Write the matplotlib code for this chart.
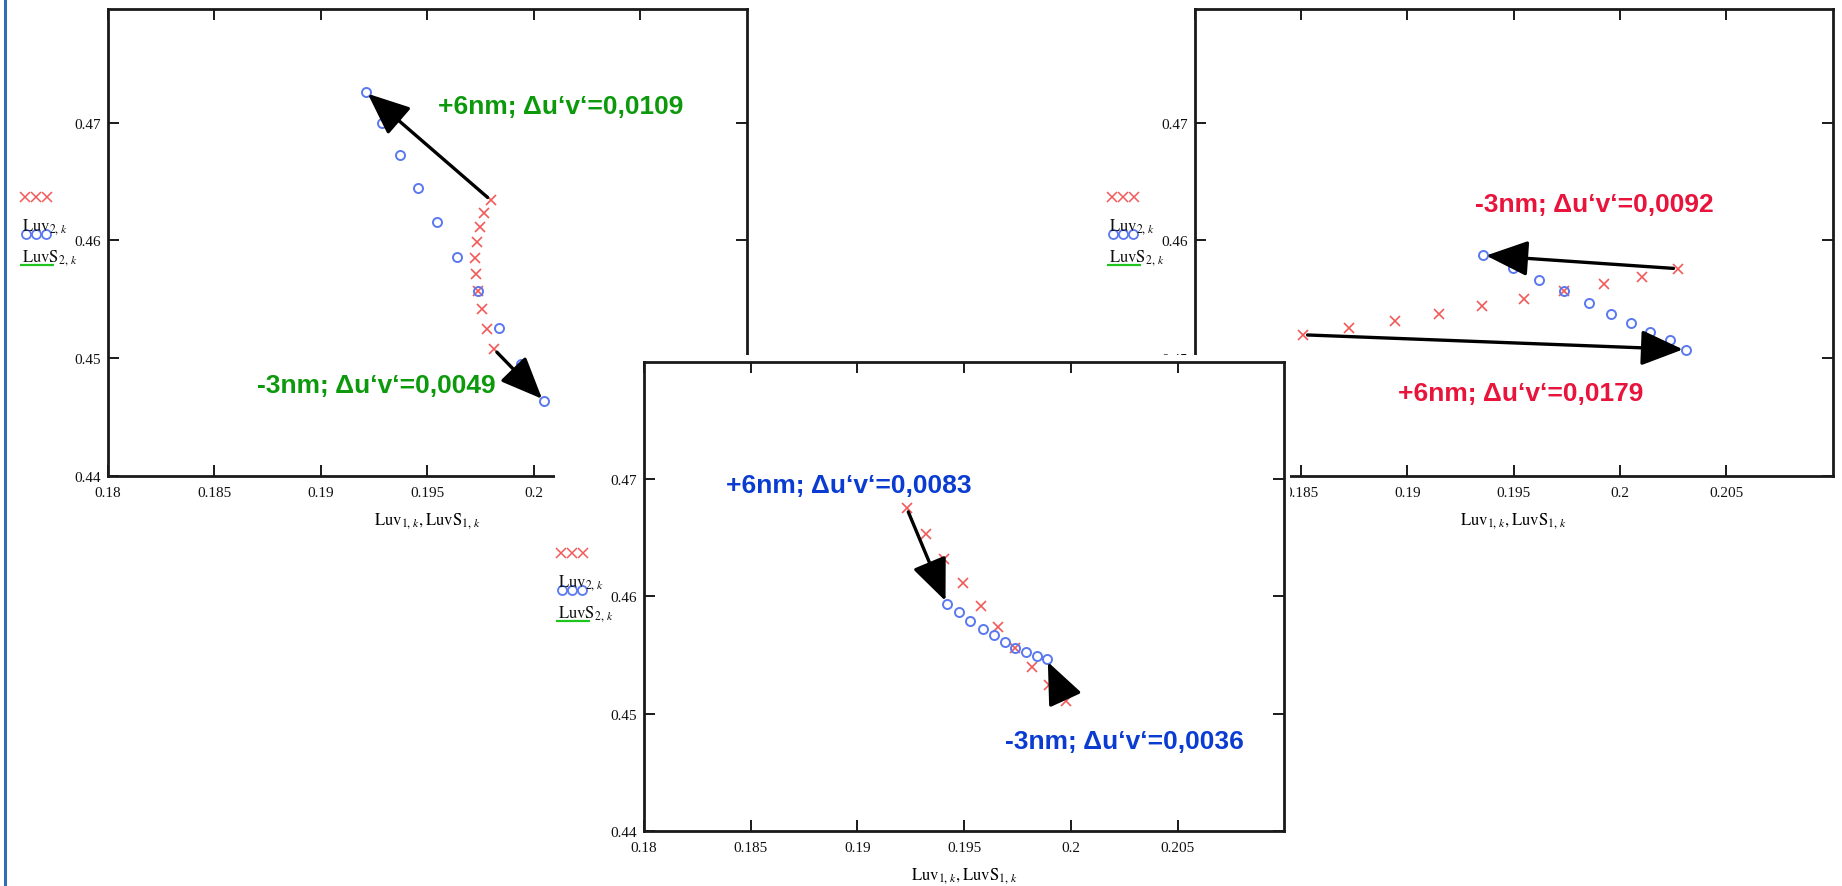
import numpy as np
import matplotlib
matplotlib.use("Agg")
import matplotlib.pyplot as plt
import matplotlib.transforms as mtransforms
from matplotlib.patches import Rectangle
from matplotlib.lines import Line2D

plt.rcParams['mathtext.fontset'] = 'stix'
plt.rcParams['font.family'] = ['Liberation Serif', 'DejaVu Serif']

W, H, DPI = 1842, 887, 100

# u'v' chromaticity points
# panel 1 (green notes)
p1_red_u = [0.19798, 0.19768, 0.19748, 0.19732, 0.19723, 0.19727, 0.19740, 0.19756, 0.19782, 0.19813]
p1_red_v = [0.46342, 0.46236, 0.46117, 0.45986, 0.45854, 0.45712, 0.45570, 0.45415, 0.45251, 0.45076]
p1_blue_u = [0.19211, 0.19289, 0.19372, 0.19458, 0.19544, 0.19638, 0.19740, 0.19838, 0.19939, 0.20048]
p1_blue_v = [0.47262, 0.46999, 0.46722, 0.46444, 0.46156, 0.45862, 0.45570, 0.45260, 0.44949, 0.44637]

# panel 2 (blue notes)
p2_red_u = [0.19231, 0.19320, 0.19406, 0.19493, 0.19578, 0.19660, 0.19738, 0.19819, 0.19898, 0.19976]
p2_red_v = [0.46753, 0.46532, 0.46319, 0.46115, 0.45922, 0.45741, 0.45563, 0.45401, 0.45242, 0.45109]
p2_blue_u = [0.19418, 0.19475, 0.19528, 0.19587, 0.19640, 0.19691, 0.19738, 0.19788, 0.19840, 0.19887]
p2_blue_v = [0.45939, 0.45865, 0.45792, 0.45724, 0.45667, 0.45610, 0.45563, 0.45525, 0.45491, 0.45463]

# panel 3 (red notes)
p3_red_u = [0.18511, 0.18727, 0.18942, 0.19149, 0.19350, 0.19550, 0.19737, 0.19925, 0.20102, 0.20271]
p3_red_v = [0.45198, 0.45260, 0.45317, 0.45374, 0.45439, 0.45502, 0.45567, 0.45626, 0.45689, 0.45760]
p3_blue_u = [0.19357, 0.19495, 0.19618, 0.19737, 0.19853, 0.19956, 0.20050, 0.20141, 0.20235, 0.20309]
p3_blue_v = [0.45873, 0.45766, 0.45660, 0.45567, 0.45471, 0.45377, 0.45298, 0.45221, 0.45150, 0.45073]

xticks = [0.18, 0.185, 0.19, 0.195, 0.2, 0.205]
xticklabels = ['0.18', '0.185', '0.19', '0.195', '0.2', '0.205']
yticks = [0.44, 0.45, 0.46, 0.47]
yticklabels = ['0.44', '0.45', '0.46', '0.47']

p1_notes = ['+6nm; \u0394u\u2018v\u2018=0,0109', '-3nm; \u0394u\u2018v\u2018=0,0049']
p2_notes = ['+6nm; \u0394u\u2018v\u2018=0,0083', '-3nm; \u0394u\u2018v\u2018=0,0036']
p3_notes = ['-3nm; \u0394u\u2018v\u2018=0,0092', '+6nm; \u0394u\u2018v\u2018=0,0179']

xlabel = r'$\mathrm{Luv}_{1,\,k},\mathrm{LuvS}_{1,\,k}$'
leg1 = r'$\mathrm{Luv}_{2,\,k}$'
leg2 = r'$\mathrm{LuvS}_{2,\,k}$'

RED = '#f25a5a'
BLUE = '#5a78f0'


def px_box(left, top, right, bottom):
    return [left / W, 1 - bottom / H, (right - left) / W, (bottom - top) / H]


fig = plt.figure(figsize=(W / DPI, H / DPI), dpi=DPI)
fig.patch.set_facecolor('white')


def off(ax, dx, dy):
    # pixel offset from (left spine, data y); dy positive = down
    return mtransforms.offset_copy(ax.get_yaxis_transform(), fig=fig,
                                   x=dx, y=-dy, units='dots')


def panel(ax, ru, rv, bu, bv, ytop, arrows, notes, note_pos, ncolor):
    ax.plot(ru, rv, ls='none', marker='x', ms=7, mew=1.2, color=RED)
    ax.plot(bu, bv, ls='none', marker='o', ms=6.5, mew=1.4, mfc='none', color=BLUE)

    for (a, b) in arrows:
        ax.annotate('', xy=(bu[b], bv[b]), xytext=(ru[a], rv[a]),
                    arrowprops=dict(arrowstyle='-|>,head_length=1.3,head_width=0.55',
                                    mutation_scale=20, lw=2.4, color='black',
                                    shrinkA=3, shrinkB=2))
    for s, (x, y) in zip(notes, note_pos):
        ax.text(x, y, s, ha='left', va='baseline', color=ncolor,
                fontsize=19, fontweight='bold', family='Liberation Sans')

    ax.set_xticks(xticks)
    ax.set_xticklabels(xticklabels)
    ax.set_yticks(yticks)
    ax.set_yticklabels(yticklabels)
    ax.tick_params(direction='in', top=True, right=True, length=8, width=1.4,
                   labelsize=11, color='#1a1a1a', labelcolor='#111111')
    ax.tick_params(axis='x', pad=7)
    ax.tick_params(axis='y', pad=5)
    for sp in ax.spines.values():
        sp.set_linewidth(2.0)
        sp.set_color('#1a1a1a')
    ax.set_xlabel(xlabel, fontsize=12, labelpad=8)

    # Mathcad style trace legend at the y axis
    for dx in (-83, -72, -61):
        ax.plot([0], [0.46], ls='none', marker='x', ms=6.5, mew=1.1, color=RED,
                transform=off(ax, dx, -43), clip_on=False)
    for dx in (-82, -72, -62):
        ax.plot([0], [0.46], ls='none', marker='o', ms=6.5, mew=1.3, mfc='none',
                color=BLUE, transform=off(ax, dx, -6), clip_on=False)
    ax.text(0, 0.46, leg1, transform=off(ax, -86, -14), ha='left', va='center',
            fontsize=12, color='#111111')
    ax.text(0, 0.46, leg2, transform=off(ax, -86, 17), ha='left', va='center',
            fontsize=12, color='#111111')
    ax.plot([0], [0.46], ls='none', marker='_', ms=24, mew=1.6, color='#1fc41f',
            transform=off(ax, -71, 25), clip_on=False)

    ax.set_xlim(0.18, 0.21)
    ax.set_ylim(0.44, ytop)


ax1 = fig.add_axes(px_box(107.5, 9.6, 747, 476.8), zorder=1)
ax3 = fig.add_axes(px_box(1194.7, 9.6, 1832.7, 476.8), zorder=1)

panel(ax1, p1_red_u, p1_red_v, p1_blue_u, p1_blue_v, 0.4797,
      [(0, 0), (9, 9)], p1_notes, [(0.19552, 0.47086), (0.18703, 0.44708)], '#0c9a0c')
panel(ax3, p3_red_u, p3_red_v, p3_blue_u, p3_blue_v, 0.4797,
      [(9, 0), (0, 9)], p3_notes, [(0.19316, 0.46253), (0.18957, 0.44642)], '#e8143c')

# white sheet of the bottom plot, lying over the two upper ones
fig.add_artist(Rectangle((555 / W, 0), (1290 - 555) / W, 1 - 356 / H,
                         transform=fig.transFigure, facecolor='white',
                         edgecolor='none', zorder=1.5))

ax2 = fig.add_axes(px_box(643.9, 362.7, 1284.3, 832.1), zorder=2)
panel(ax2, p2_red_u, p2_red_v, p2_blue_u, p2_blue_v, 0.48,
      [(0, 0), (9, 9)], p2_notes, [(0.18386, 0.46886), (0.19692, 0.44706)], '#0a3cd2')

# slide border on the left
fig.add_artist(Line2D([4.5 / W, 4.5 / W], [0, 1], transform=fig.transFigure,
                      color='#2f6eb5', lw=2.2, zorder=3))

fig.savefig('out.png', dpi=DPI)
